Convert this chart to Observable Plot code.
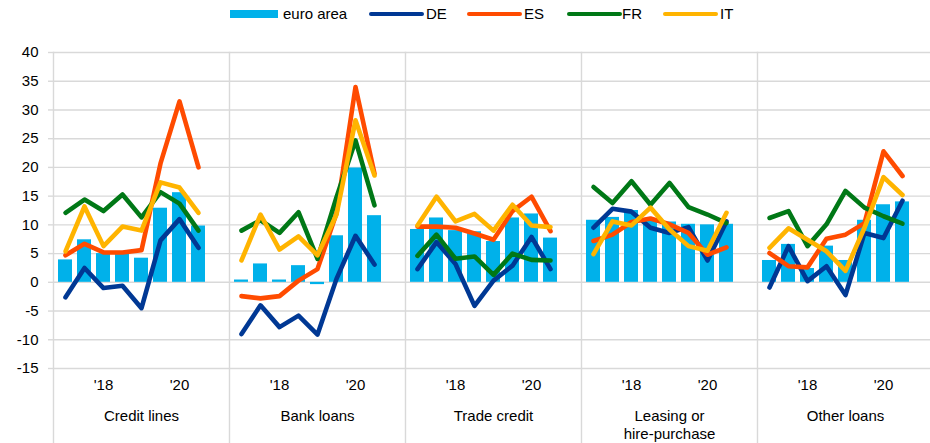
<!DOCTYPE html>
<html>
<head>
<meta charset="utf-8">
<script src="https://cdn.jsdelivr.net/npm/d3@7"></script>
<script src="https://cdn.jsdelivr.net/npm/@observablehq/plot@0.6"></script>
<style>
  body { margin: 0; background: #fff; font-family: "Liberation Sans", Arial, sans-serif; }
  #legend { position: relative; height: 30px; width: 930px; font-size: 15px; color: #000; }
  #legend .sw { position: absolute; }
  #legend .lb { position: absolute; top: 6px; line-height: 16px; }
</style>
</head>
<body>
<div id="legend"></div>
<div id="chart"></div>
<script>
// ---- data ----
const periods = ["2017H1","2017H2","2018H1","2018H2","2019H1","2019H2","2020H1","2020H2","2021H1"];
const panels = ["Credit lines","Bank loans","Trade credit","Leasing or hire-purchase","Other loans"];
const panelLabels = ["Credit lines","Bank loans","Trade credit","Leasing or\nhire-purchase","Other loans"];
const xTickPeriods = ["2018H1","2020H1"];
const xTickLabels = ["'18","'20"];
const yTicks = [-15,-10,-5,0,5,10,15,20,25,30,35,40];
const countries = ["DE","ES","FR","IT"];
const seriesNames = ["euro area","DE","ES","FR","IT"];
const seriesColors = ["#00B1EA","#003894","#FF4B00","#007816","#FFB400"];

const euroArea = {
  "Credit lines":             [3.9, 7.4, 5.0, 5.2, 4.2, 12.9, 15.6, 9.8],
  "Bank loans":               [0.4, 3.2, 0.4, 2.9, -0.4, 8.1, 19.9, 11.6],
  "Trade credit":             [9.2, 11.2, 9.0, 8.8, 7.1, 11.2, 11.9, 7.7],
  "Leasing or hire-purchase": [10.8, 11.3, 12.5, 10.8, 10.5, 10.1, 10.0, 10.1],
  "Other loans":              [3.8, 6.6, 2.4, 6.3, 3.8, 10.8, 13.5, 14.0]
};
const DE = {
  "Credit lines":             [-2.6, 2.5, -1.0, -0.6, -4.5, 7.3, 11.0, 6.0],
  "Bank loans":               [-9.0, -4.0, -7.8, -5.8, -9.1, 0.6, 8.1, 3.1],
  "Trade credit":             [2.3, 7.0, 3.2, -4.1, 0.3, 2.9, 7.9, 2.3],
  "Leasing or hire-purchase": [9.5, 12.8, 12.3, 9.5, 8.6, 9.6, 3.8, 10.6],
  "Other loans":              [-0.9, 6.3, 0.2, 2.8, -2.2, 8.6, 7.7, 14.2]
};
const ES = {
  "Credit lines":             [4.7, 6.7, 5.2, 5.2, 5.6, 20.7, 31.5, 20.0],
  "Bank loans":               [-2.4, -2.8, -2.4, 0.3, 2.3, 12.0, 34.0, 18.9],
  "Trade credit":             [9.7, 9.7, 9.5, 8.5, 7.4, 12.4, 14.9, 8.9],
  "Leasing or hire-purchase": [7.2, 8.3, 10.5, 11.1, 10.1, 8.6, 4.8, 6.1],
  "Other loans":              [5.1, 2.8, 2.6, 7.6, 8.3, 10.3, 22.8, 18.5]
};
const FR = {
  "Credit lines":             [12.1, 14.4, 12.4, 15.3, 11.3, 15.7, 13.7, 9.0],
  "Bank loans":               [9.0, 10.8, 8.6, 12.2, 4.1, 14.8, 24.7, 13.4],
  "Trade credit":             [4.6, 8.3, 4.1, 4.5, 1.3, 5.0, 3.9, 3.8],
  "Leasing or hire-purchase": [16.6, 13.8, 17.6, 13.5, 17.3, 13.1, 11.8, 10.3],
  "Other loans":              [11.2, 12.4, 6.3, 10.1, 15.9, 13.0, 11.5, 10.2]
};
const IT = {
  "Credit lines":             [5.4, 13.2, 6.3, 9.7, 9.0, 17.4, 16.5, 12.1],
  "Bank loans":               [3.8, 11.8, 5.7, 8.0, 4.7, 11.8, 28.2, 18.6],
  "Trade credit":             [9.9, 14.9, 10.6, 11.9, 9.0, 13.5, 9.9, 9.6],
  "Leasing or hire-purchase": [4.9, 10.6, 9.9, 13.0, 9.2, 6.3, 5.5, 12.1],
  "Other loans":              [6.0, 9.4, 7.4, 5.4, 2.0, 9.5, 18.3, 15.2]
};
const countryData = {DE, ES, FR, IT};

// ---- tidy tables ----
const bars = [];
for (const p of panels) euroArea[p].forEach((v, i) => bars.push({panel: p, period: periods[i], value: v}));
const lines = [];
for (const c of countries) for (const p of panels)
  countryData[c][p].forEach((v, i) => lines.push({panel: p, period: periods[i], country: c, value: v}));

// ---- legend ----
const legend = document.getElementById("legend");
const legendLeft = [230, 369, 467, 567, 663];
const labelLeft = [283, 426, 524, 622, 720];
seriesNames.forEach((name, k) => {
  const sw = document.createElement("div");
  sw.className = "sw";
  sw.style.left = legendLeft[k] + "px";
  if (k === 0) {
    sw.style.top = "10px"; sw.style.width = "48px"; sw.style.height = "8px";
  } else {
    sw.style.top = "12px"; sw.style.width = "55px"; sw.style.height = "4px"; sw.style.borderRadius = "2px";
  }
  sw.style.background = seriesColors[k];
  legend.appendChild(sw);
  const lb = document.createElement("div");
  lb.className = "lb";
  lb.style.left = labelLeft[k] + "px";
  lb.textContent = name;
  legend.appendChild(lb);
});

// ---- chart ----
const chart = Plot.plot({
  width: 930,
  height: 413,
  marginTop: 22,
  marginBottom: 75,
  marginLeft: 53,
  marginRight: -3,
  style: {fontFamily: "'Liberation Sans', Arial, sans-serif", fontSize: "15px", color: "#000", background: "#fff", overflow: "hidden"},
  fx: {domain: panels, padding: 0, label: null},
  x: {domain: periods, padding: 0.24, label: null},
  y: {domain: [-15, 40], label: null},
  color: {domain: countries, range: seriesColors.slice(1)},
  marks: [
    Plot.gridY(yTicks, {stroke: "#d9d9d9", strokeOpacity: 1, strokeWidth: 1.4}),
    Plot.frame({anchor: "left", stroke: "#d9d9d9", strokeWidth: 1.4, insetBottom: -75}),
    Plot.axisY(yTicks, {tickSize: 5, tickPadding: 10, stroke: "#d9d9d9", strokeWidth: 1.4, tickFormat: d => String(d), fill: "#000", label: null}),
    Plot.barY(bars, {fx: "panel", x: "period", y: "value", fill: seriesColors[0]}),
    Plot.line(lines, {fx: "panel", x: "period", y: "value", z: "country", stroke: "country", strokeWidth: 4.6, strokeLinecap: "round", strokeLinejoin: "round"}),
    Plot.axisX(xTickPeriods, {tickSize: 0, tickPadding: 11, tickFormat: d => xTickLabels[xTickPeriods.indexOf(d)], fill: "#000", label: null}),
    Plot.axisFx({anchor: "bottom", tickSize: 0, tickPadding: 40, lineHeight: 1.2, tickFormat: d => panelLabels[panels.indexOf(d)], fill: "#000", label: null})
  ]
});
document.getElementById("chart").appendChild(chart);
</script>
</body>
</html>
